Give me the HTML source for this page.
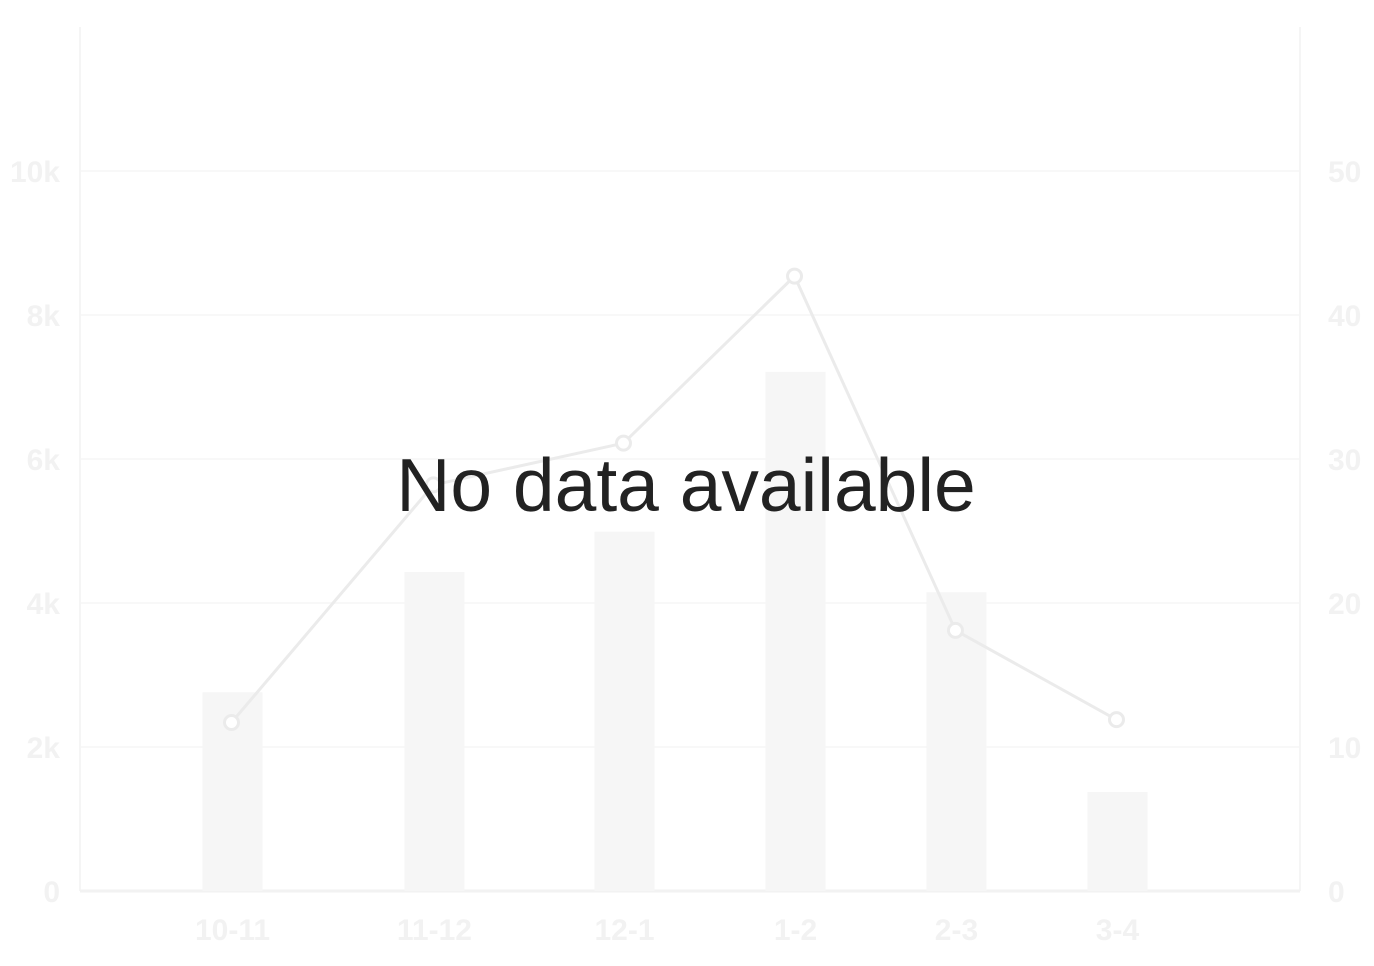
<!DOCTYPE html>
<html><head><meta charset="utf-8"><style>
html,body{margin:0;padding:0;background:#fff;}
svg{display:block;font-family:"Liberation Sans",sans-serif;}
</style></head><body>
<svg id="chart" width="1374" height="966"></svg>
<script>
const categories=["10-11","11-12","12-1","1-2","2-3","3-4"];
const barValues=[2760,4430,4990,7210,4150,1375];
const lineValues=[11.7,28.2,31.1,42.7,18.1,11.9];
const leftTicks=[0,2000,4000,6000,8000,10000];
const leftTickLabels=["0","2k","4k","6k","8k","10k"];
const rightTicks=[0,10,20,30,40,50];
const xFrac=[0.125,0.2905,0.4463,0.5865,0.7184,0.8504];
const NS="http://www.w3.org/2000/svg";
const svg=document.getElementById('chart');
const L=80,R=1300,T=27,B=891;
const yL=v=>B-(v/12000)*(B-T);
const yR=v=>B-(v/60)*(B-T);
const xC=i=>L+xFrac[i]*(R-L);
function mk(t,a){const e=document.createElementNS(NS,t);for(const k in a)e.setAttribute(k,a[k]);svg.appendChild(e);return e;}
leftTicks.forEach((v,i)=>{
 const g=mk('line',{x1:L,x2:R,y1:yL(v),y2:yL(v),stroke:'#f8f8f8','stroke-width':2});
 
 
 const t=mk('text',{x:60,y:yL(v)+11,'text-anchor':'end','font-size':30,'font-weight':'bold',fill:'#f2f2f2'});
 t.textContent=leftTickLabels[i];
 
 
});
rightTicks.forEach(v=>{
 const t=mk('text',{x:1328,y:yR(v)+11,'text-anchor':'start','font-size':30,'font-weight':'bold',fill:'#f2f2f2'});
 t.textContent=String(v);
 
 
});
const ax=mk('line',{x1:L,x2:L,y1:T,y2:B,stroke:'#f5f5f5','stroke-width':2});


const ax2=mk('line',{x1:R,x2:R,y1:T,y2:B,stroke:'#f5f5f5','stroke-width':2});


const ax3=mk('line',{x1:L,x2:R,y1:B,y2:B,stroke:'#f2f2f2','stroke-width':3});


categories.forEach((c,i)=>{
 const b=mk('rect',{x:xC(i)-30,y:yL(barValues[i]),width:60,height:B-yL(barValues[i]),fill:'#f6f6f6'});
 
 
 const t=mk('text',{x:xC(i),y:940,'text-anchor':'middle','font-size':30,'font-weight':'bold',fill:'#f2f2f2'});
 t.textContent=c;
 
 
});
const pts=lineValues.map((v,i)=>(xC(i)-1)+','+yR(v)).join(' ');
const pl=mk('polyline',{points:pts,fill:'none',stroke:'#ebebeb','stroke-width':3});


lineValues.forEach((v,i)=>{
 const c=mk('circle',{cx:xC(i)-1,cy:yR(v),r:7,fill:'#fff',stroke:'#ebebeb','stroke-width':3});
 
 
});
const msg=mk('text',{x:686,y:511,'text-anchor':'middle','font-size':75,fill:'#222'});
msg.textContent='No data available';


</script>
</body></html>
